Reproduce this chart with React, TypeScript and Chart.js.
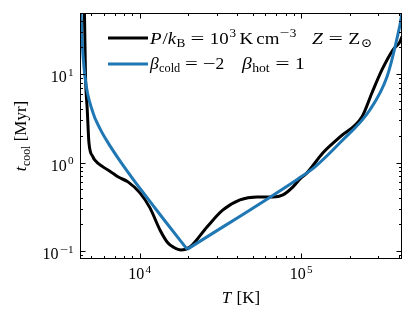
import React, { useEffect, useRef } from "react";
import { Chart, registerables } from "chart.js";

Chart.register(...registerables);

// ---- data ----
const blackT = [4500, 4546, 4611, 4731, 4847, 5132, 5258, 5918, 6631, 7328, 8451, 10028, 11567, 13339, 14950, 16280, 17994, 20460, 26070, 32750, 41730, 53190, 66800, 77040, 88850, 98170, 108500, 136300, 173700, 237600, 274100, 316100, 369700, 408400, 420300, 430000];
const blackTcool = [90, 49.4, 9.96, 3.95, 1.67, 1.16, 1.07, 0.893, 0.784, 0.689, 0.604, 0.454, 0.307, 0.173, 0.123, 0.1096, 0.1026, 0.111, 0.187, 0.291, 0.378, 0.408, 0.408, 0.431, 0.53, 0.653, 0.764, 1.29, 1.95, 3.29, 6.15, 11.2, 18.8, 23.2, 26.5, 29];

const blueColdT = [4275, 4325, 4386, 4578, 5132, 5670, 6356, 7541, 8822, 10172, 12420, 14530, 19685];
const blueColdTcool = [98, 55.4, 26.2, 9.35, 3.67, 2.42, 1.68, 1.044, 0.699, 0.493, 0.306, 0.2113, 0.1045];
const blueHotT = [19685, 95400, 121600, 173600, 266300, 339400, 385900, 420300, 425000];
const blueHotTcool = [0.1045, 0.653, 0.893, 1.67, 3.95, 9.33, 22.6, 49.4, 60];

const xRange = [4266, 420300];
const yRange = [0.0812, 49];
const xMajor = [1e4, 1e5];
const xMajorExp = ["4", "5"];
const xMinor = [5000, 6000, 7000, 8000, 9000, 2e4, 3e4, 4e4, 5e4, 6e4, 7e4, 8e4, 9e4, 2e5, 3e5, 4e5];
const yMajor = [0.1, 1, 10];
const yMajorExp = ["\u22121", "0", "1"];
const yMinor = [0.09, 0.2, 0.3, 0.4, 0.5, 0.6, 0.7, 0.8, 0.9, 2, 3, 4, 5, 6, 7, 8, 9, 20, 30, 40];

const BLACK = "#000000";
const BLUE = "#1f77b4";
const FONT = '"Liberation Serif", "DejaVu Serif", serif';

// text pieces: it = italic, s = sub/superscript, g = space before (in em)
type Seg = { t: string; it?: boolean; s?: "sup" | "sub"; g?: number; sx?: number };
const TH = 0.28; // thick math space
const TN = 0.17; // thin math space

type Group = { x0: number; st: number; segs: Seg[] };
const legendRow1: Group[] = [
  {
    x0: 150,
    st: 1.08,
    segs: [
      { t: "P", it: true }, { t: "/", g: 0.05 }, { t: "k", it: true }, { t: "B", s: "sub", g: 0.02 },
      { t: "=", g: TH, sx: 1.3 }, { t: "10", g: TH }, { t: "3", s: "sup", g: 0.05 },
      { t: "K", g: TN }, { t: "cm", g: TN }, { t: "\u2212", s: "sup", g: 0.03, sx: 1.3 }, { t: "3", s: "sup" },
    ],
  },
  {
    x0: 312,
    st: 1.12,
    segs: [
      { t: "Z", it: true }, { t: "=", g: TH, sx: 1.3 }, { t: "Z", g: TH }, { t: "\u2299", s: "sub", g: 0.03 },
    ],
  },
];
const legendRow2: Group[] = [
  {
    x0: 150,
    st: 1.0,
    segs: [
      { t: "\u03b2", it: true }, { t: "cold", s: "sub", g: 0.02 }, { t: "=", g: TH, sx: 1.3 },
      { t: "\u2212", g: TH, sx: 1.3 }, { t: "2" },
    ],
  },
  {
    x0: 242,
    st: 1.12,
    segs: [
      { t: "\u03b2", it: true }, { t: "hot", s: "sub", g: 0.02 }, { t: "=", g: TH, sx: 1.3 }, { t: "1", g: TH },
    ],
  },
];
const yTitle: Seg[] = [{ t: "t", it: true }, { t: "cool", s: "sub", g: 0.03 }, { t: " [Myr]" }];
const xTitle: Seg[] = [{ t: "T", it: true }, { t: " [K]", g: 0.06 }];

function layout(ctx: CanvasRenderingContext2D, segs: Seg[], size: number) {
  let cx = 0;
  const parts = segs.map((sg) => {
    const sz = sg.s ? size * 0.7 : size;
    const font = `${sg.it ? "italic " : ""}${sz}px ${FONT}`;
    ctx.font = font;
    const sx = sg.sx || 1;
    cx += (sg.g || 0) * size;
    const x = cx;
    const w = ctx.measureText(sg.t).width * sx;
    cx += w;
    const dy = sg.s === "sup" ? -size * 0.4 : sg.s === "sub" ? size * 0.22 : 0;
    return { font, x, dy, t: sg.t, sx };
  });
  return { parts, width: cx };
}

function drawRich(ctx: CanvasRenderingContext2D, segs: Seg[], x: number, y: number, size: number, align: "left" | "center" | "right", stretch = 1) {
  const { parts, width } = layout(ctx, segs, size);
  const total = width * stretch;
  const x0 = align === "left" ? x : align === "center" ? x - total / 2 : x - total;
  ctx.textAlign = "left";
  ctx.textBaseline = "alphabetic";
  for (const p of parts) {
    ctx.save();
    ctx.font = p.font;
    ctx.translate(x0 + p.x * stretch, y + p.dy);
    ctx.scale(p.sx * stretch, 1);
    ctx.fillText(p.t, 0, 0);
    ctx.restore();
  }
  return total;
}

const decorPlugin = {
  id: "decor",
  afterDatasetsDraw(chart: any) {
    const ctx: CanvasRenderingContext2D = chart.ctx;
    const { left, right, top, bottom } = chart.chartArea;
    const xs = chart.scales.x;
    const ys = chart.scales.y;
    ctx.save();
    ctx.strokeStyle = "#000";
    ctx.lineWidth = 1;
    // frame
    ctx.strokeRect(Math.round(left) + 0.5, Math.round(top) + 0.5, Math.round(right - left) - 1, Math.round(bottom - top) - 1);
    const tickX = (v: number, len: number) => {
      const px = Math.round(xs.getPixelForValue(v)) + 0.5;
      ctx.beginPath();
      ctx.moveTo(px, bottom);
      ctx.lineTo(px, bottom - len);
      ctx.moveTo(px, top);
      ctx.lineTo(px, top + len);
      ctx.stroke();
    };
    const tickY = (v: number, len: number) => {
      const py = Math.round(ys.getPixelForValue(v)) + 0.5;
      ctx.beginPath();
      ctx.moveTo(left, py);
      ctx.lineTo(left + len, py);
      ctx.moveTo(right, py);
      ctx.lineTo(right - len, py);
      ctx.stroke();
    };
    xMinor.forEach((v) => tickX(v, 3));
    xMajor.forEach((v) => tickX(v, 5.5));
    yMinor.forEach((v) => tickY(v, 3));
    yMajor.forEach((v) => tickY(v, 5.5));

    ctx.fillStyle = "#000";
    const tickSize = 16;
    const expSegs = (e: string): Seg[] =>
      e.startsWith("\u2212")
        ? [{ t: "10" }, { t: "\u2212", s: "sup", g: 0.08, sx: 1.3 }, { t: e.slice(1), s: "sup" }]
        : [{ t: "10" }, { t: e, s: "sup", g: 0.08 }];
    xMajor.forEach((v, i) => {
      const px = xs.getPixelForValue(v);
      drawRich(ctx, expSegs(xMajorExp[i]), px, 279, tickSize, "center");
    });
    yMajor.forEach((v, i) => {
      const py = ys.getPixelForValue(v);
      drawRich(ctx, expSegs(yMajorExp[i]), left - 6.5, py + 8, tickSize, "right");
    });
    // axis titles
    const titleSize = 17;
    drawRich(ctx, xTitle, (left + right) / 2, 303, titleSize, "center");
    ctx.save();
    ctx.translate(26, (top + bottom) / 2);
    ctx.rotate(-Math.PI / 2);
    drawRich(ctx, yTitle, 0, 0, titleSize, "center");
    ctx.restore();

    // legend
    ctx.lineWidth = 3;
    ctx.lineCap = "butt";
    ctx.strokeStyle = BLACK;
    ctx.beginPath();
    ctx.moveTo(108, 38);
    ctx.lineTo(148, 38);
    ctx.stroke();
    ctx.strokeStyle = BLUE;
    ctx.beginPath();
    ctx.moveTo(108, 64);
    ctx.lineTo(148, 64);
    ctx.stroke();
    const legSize = 17.5;
    legendRow1.forEach((g) => drawRich(ctx, g.segs, g.x0, 43.5, legSize, "left", g.st));
    legendRow2.forEach((g) => drawRich(ctx, g.segs, g.x0, 68.5, legSize, "left", g.st));
    ctx.restore();
  },
};

const toPts = (xsArr: number[], ysArr: number[]) => xsArr.map((x, i) => ({ x, y: ysArr[i] }));

export default function App() {
  const ref = useRef<HTMLCanvasElement | null>(null);
  useEffect(() => {
    document.body.style.margin = "0";
    if (!ref.current) return;
    const common = {
      pointRadius: 0,
      borderWidth: 3,
      fill: false,
      cubicInterpolationMode: "monotone" as const,
      clip: 0,
    };
    const chart = new Chart(ref.current, {
      type: "line",
      data: {
        datasets: [
          { ...common, label: "blue cold", data: toPts(blueColdT, blueColdTcool), borderColor: BLUE },
          { ...common, label: "blue hot", data: toPts(blueHotT, blueHotTcool), borderColor: BLUE },
          { ...common, label: "black", data: toPts(blackT, blackTcool), borderColor: BLACK },
        ],
      },
      options: {
        animation: false,
        responsive: false,
        devicePixelRatio: 1,
        parsing: false as any,
        layout: { padding: { left: 80, right: 14, top: 13, bottom: 61 } },
        plugins: { legend: { display: false }, tooltip: { enabled: false } },
        scales: {
          x: { type: "logarithmic", min: xRange[0], max: xRange[1], display: false },
          y: { type: "logarithmic", min: yRange[0], max: yRange[1], display: false },
        },
      },
      plugins: [decorPlugin],
    });
    return () => chart.destroy();
  }, []);
  return <canvas ref={ref} width={416} height={320} style={{ display: "block" }} />;
}
